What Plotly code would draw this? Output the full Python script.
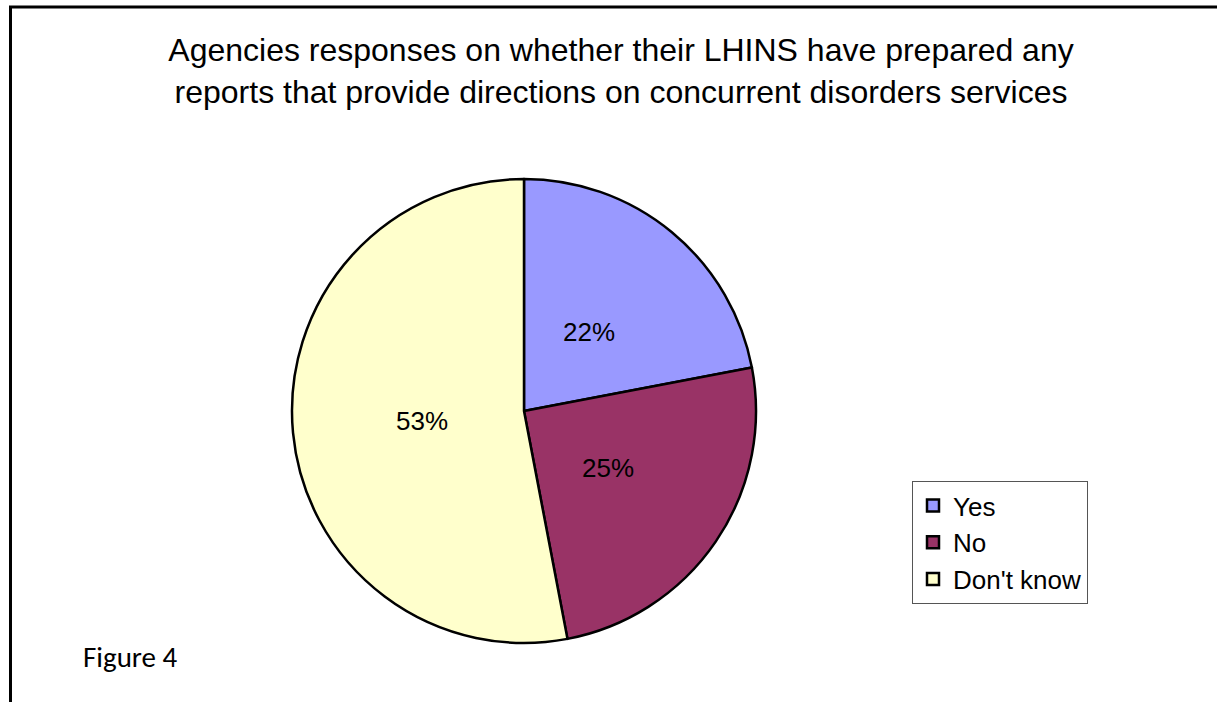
import math
import plotly.graph_objects as go

# Data
categories = ["Yes", "No", "Don't know"]
percentages = [22, 25, 53]
slice_colors = ["#9999FF", "#993366", "#FFFFCC"]

title_text = ("Agencies responses on whether their LHINS have prepared any<br>"
              "reports that provide directions on concurrent disorders services")
caption_text = "Figure 4"

W, H = 1217, 702

# pie geometry (pixels from top-left)
PIE_X = [292, 756]
PIE_Y = [179, 643]
LABEL_FRAC = 0.44

fig = go.Figure(
    go.Pie(
        labels=categories,
        values=percentages,
        sort=False,
        direction="clockwise",
        rotation=0,
        marker=dict(colors=slice_colors, line=dict(color="#000000", width=2.5)),
        textinfo="none",
        domain=dict(x=[PIE_X[0] / W, PIE_X[1] / W], y=[1 - PIE_Y[1] / H, 1 - PIE_Y[0] / H]),
        hoverinfo="label+percent",
    )
)

# percentage labels placed at the slice mid-angles
cx = (PIE_X[0] + PIE_X[1]) / 2
cy = (PIE_Y[0] + PIE_Y[1]) / 2
R = (PIE_X[1] - PIE_X[0]) / 2
total = sum(percentages)
annotations = []
cum = 0
for v in percentages:
    mid = (cum + v / 2) / total * 2 * math.pi
    cum += v
    px = cx + LABEL_FRAC * R * math.sin(mid)
    py = cy - LABEL_FRAC * R * math.cos(mid)
    annotations.append(dict(
        text=f"{round(v / total * 100)}%", xref="paper", yref="paper",
        x=px / W, y=1 - py / H, xanchor="center", yanchor="middle", showarrow=False,
        font=dict(family="Arial, Liberation Sans, sans-serif", size=26, color="#000000")))

annotations.append(dict(
    text=caption_text, xref="paper", yref="paper", x=81 / W, y=1 - 657 / H,
    xanchor="left", yanchor="middle", showarrow=False,
    font=dict(family="Carlito, Calibri, Lato, sans-serif", size=29, color="#000000")))

fig.update_layout(
    width=W,
    height=H,
    margin=dict(l=0, r=0, t=0, b=0),
    paper_bgcolor="#FFFFFF",
    plot_bgcolor="#FFFFFF",
    title=dict(
        text=title_text,
        x=621 / W,
        xanchor="center",
        y=1 - 61 / H,
        yanchor="top",
        font=dict(family="Arial, Liberation Sans, sans-serif", size=32, color="#000000"),
    ),
    legend=dict(
        x=912 / W,
        y=1 - 481 / H,
        xanchor="left",
        yanchor="top",
        bordercolor="#555555",
        borderwidth=1,
        bgcolor="#FFFFFF",
        font=dict(family="Arial, Liberation Sans, sans-serif", size=26, color="#000000"),
    ),
    shapes=[
        dict(type="line", xref="paper", yref="paper", x0=9 / W, x1=1, y0=1 - 7 / H, y1=1 - 7 / H,
             line=dict(color="#000000", width=3)),
        dict(type="line", xref="paper", yref="paper", x0=10.5 / W, x1=10.5 / W, y0=0, y1=1 - 6 / H,
             line=dict(color="#000000", width=3)),
    ],
    annotations=annotations,
)

fig.write_html("out.html", config={"displayModeBar": False},
               post_script="document.body.style.margin='0';")
